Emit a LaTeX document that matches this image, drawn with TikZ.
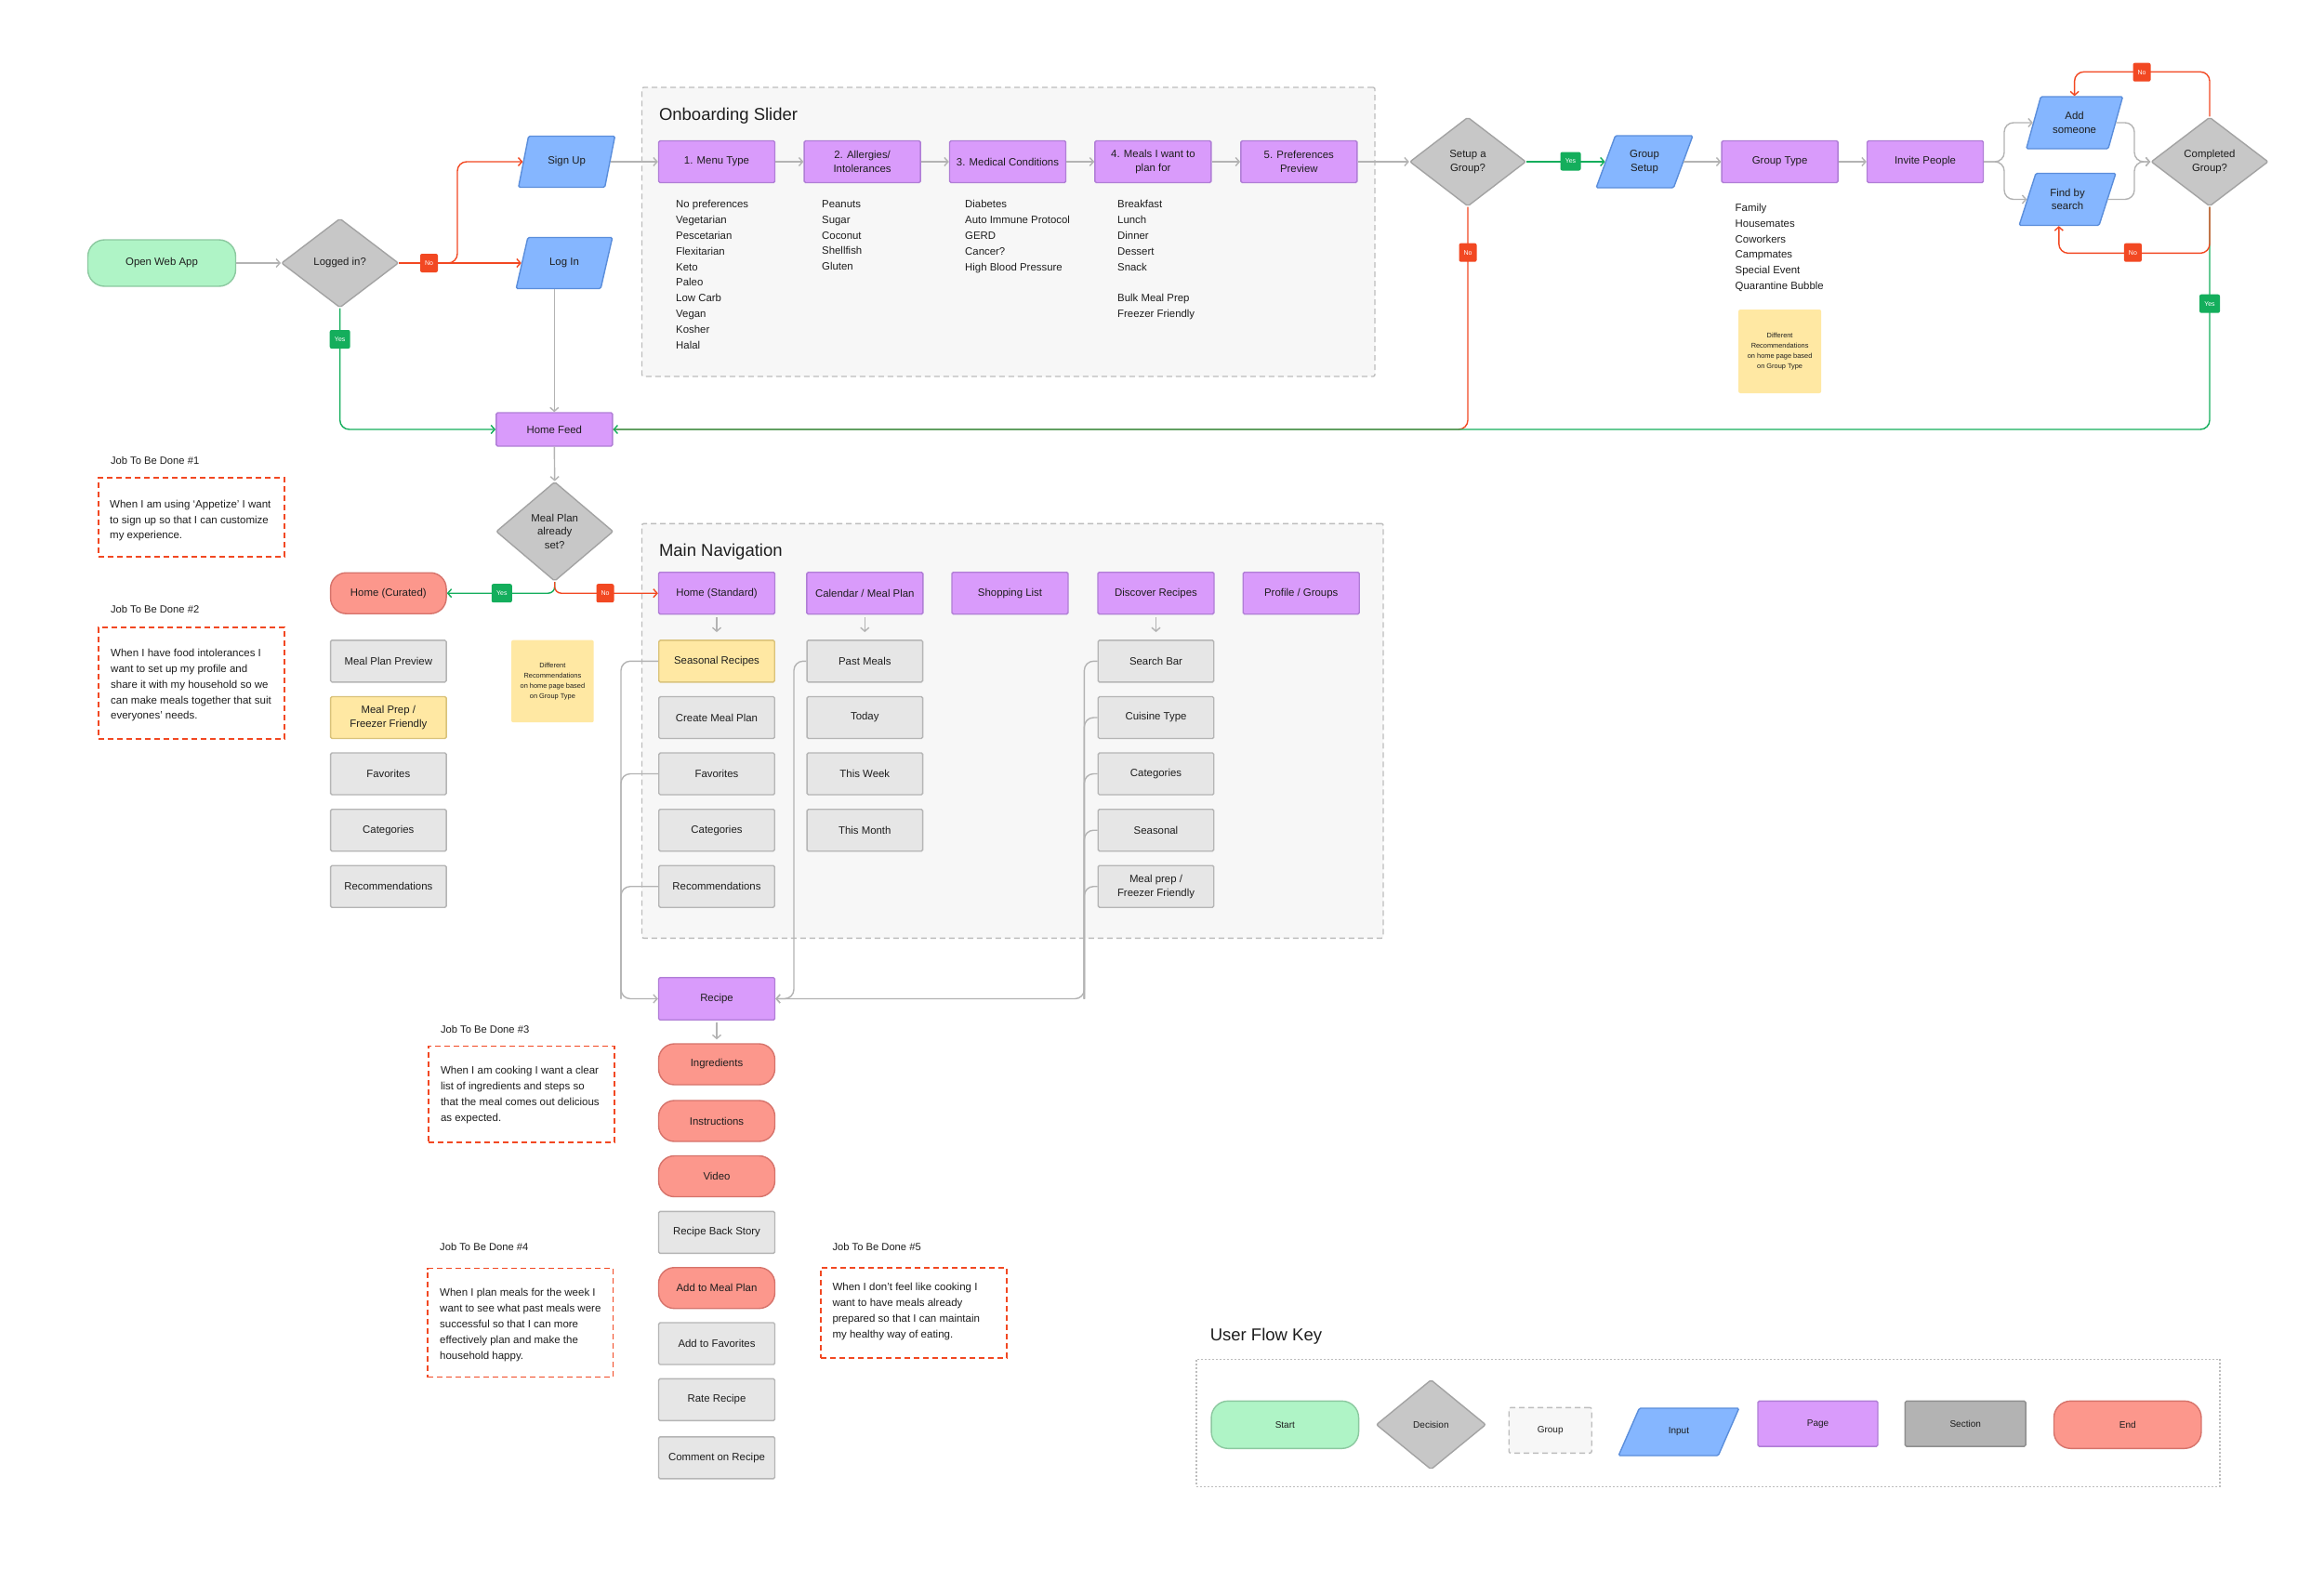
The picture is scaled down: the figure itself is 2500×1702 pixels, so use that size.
\documentclass[tikz,border=0pt]{standalone}
\usepackage{fontspec}
\setmainfont{Liberation Sans}
\usetikzlibrary{shapes.geometric,arrows.meta}
\definecolor{startfill}{HTML}{AFF4C6}
\definecolor{startdraw}{HTML}{8CC9A0}
\definecolor{pagefill}{HTML}{D99BFB}
\definecolor{pagedraw}{HTML}{B07ED6}
\definecolor{inputfill}{HTML}{85B6FF}
\definecolor{inputdraw}{HTML}{5B8EDB}
\definecolor{decfill}{HTML}{C7C7C7}
\definecolor{decdraw}{HTML}{A3A3A3}
\definecolor{grayfill}{HTML}{E6E6E6}
\definecolor{graydraw}{HTML}{B5B5B5}
\definecolor{yelfill}{HTML}{FFE8A3}
\definecolor{yeldraw}{HTML}{D9C27A}
\definecolor{endfill}{HTML}{FC978C}
\definecolor{enddraw}{HTML}{D6736B}
\definecolor{secfill}{HTML}{B3B3B3}
\definecolor{secdraw}{HTML}{8F8F8F}
\definecolor{grpfill}{HTML}{F7F7F7}
\definecolor{grpdraw}{HTML}{BDBDBD}
\definecolor{noRed}{HTML}{F24822}
\definecolor{yesGreen}{HTML}{14AE5C}
\definecolor{lineGray}{HTML}{B3B3B3}
\definecolor{txt}{HTML}{1E1E1E}
\tikzset{
  basebox/.style={draw, line width=1.4pt, text=txt, font=\fontsize{11.4}{14.7}\selectfont, align=center, inner sep=2pt},
  startbox/.style={basebox, fill=startfill, draw=startdraw, rounded corners=18pt, minimum width=159pt, minimum height=50pt},
  endbox/.style={basebox, fill=endfill, draw=enddraw, rounded corners=17pt, minimum width=124.5pt, minimum height=44pt},
  pagebox/.style={basebox, fill=pagefill, draw=pagedraw, rounded corners=1.5pt, minimum width=125pt, minimum height=45pt},
  graybox/.style={basebox, fill=grayfill, draw=graydraw, rounded corners=1.5pt, minimum width=124.5pt, minimum height=45pt},
  yelbox/.style={basebox, fill=yelfill, draw=yeldraw, rounded corners=1.5pt, minimum width=124.5pt, minimum height=45pt},
  secbox/.style={basebox, fill=secfill, draw=secdraw, rounded corners=1.5pt},
  decbox/.style={basebox, diamond, fill=decfill, draw=decdraw, rounded corners=2pt, inner sep=0pt, minimum width=126pt, minimum height=96pt},
  inbox/.style={basebox, trapezium, trapezium left angle=68, trapezium right angle=112, trapezium stretches=true, fill=inputfill, draw=inputdraw, rounded corners=1.5pt, minimum width=104pt, minimum height=55pt},
  groupbox/.style={draw=grpdraw, fill=grpfill, line width=1.4pt, dash pattern=on 6pt off 4pt, rounded corners=2pt},
  titletext/.style={anchor=west, inner sep=0pt, text=txt, font=\fontsize{18.5}{22}\selectfont},
  listtext/.style={anchor=north west, inner sep=0pt, align=left, text=txt, font=\fontsize{11.4}{16.8}\selectfont},
  jobtitle/.style={anchor=west, inner sep=0pt, text=txt, font=\fontsize{11.2}{14}\selectfont},
  jobtext/.style={anchor=north west, inner sep=0pt, align=left, text=txt, font=\fontsize{11.5}{16.8}\selectfont},
  jobbox/.style={draw=noRed, line width=1.8pt, dash pattern=on 6pt off 4pt},
  note/.style={fill=yelfill, rounded corners=2pt, align=center, text=txt, font=\fontsize{7.4}{11}\selectfont, inner sep=2pt},
  badge/.style={rounded corners=2pt, inner sep=0pt, minimum width=19pt, minimum height=20pt, text=white, font=\fontsize{7}{8}\selectfont},
  nobadge/.style={badge, fill=noRed},
  yesbadge/.style={badge, fill=yesGreen, minimum width=22pt},
  tipend/.style={-{Straight Barb[length=4pt,width=9pt]}},
  gline/.style={draw=lineGray, line width=1.4pt, rounded corners=10pt, tipend},
  glinena/.style={draw=lineGray, line width=1.4pt, rounded corners=10pt},
  rline/.style={draw=noRed, line width=1.4pt, rounded corners=10pt, tipend},
  rlinena/.style={draw=noRed, line width=1.4pt, rounded corners=10pt},
  yline/.style={draw=yesGreen, line width=1.4pt, rounded corners=10pt, tipend},
}
\begin{document}
\begin{tikzpicture}[x=1pt,y=-1pt]
\useasboundingbox (0,0) rectangle (2500,1702);
\fill[white] (0,0) rectangle (2500,1702);

% group boxes
\node[groupbox, minimum width=788.5pt, minimum height=311pt] (obgroup) at (1084.75,249.5) {};
\node[groupbox, minimum width=797.5pt, minimum height=446pt] (mngroup) at (1089.25,786.3) {};
\node[titletext] (obtitle) at (708.8,125) {Onboarding Slider};
\node[titletext] (mntitle) at (708.8,593.3) {Main Navigation};

% top-left flow
\node[startbox] (openapp) at (174,283) {Open Web App};
\node[decbox] (logged) at (365.7,283) {Logged in?};
\node[inbox] (signup) at (609.6,174) {Sign Up};
\node[inbox] (login) at (607,283) {Log In};
\node[pagebox, minimum height=36pt] (homefeed) at (596.3,462) {Home Feed};

% onboarding
\node[pagebox] (m1) at (771,174) {1. Menu Type};
\node[pagebox] (m2) at (927.6,174) {2. Allergies/\\Intolerances};
\node[pagebox] (m3) at (1084,174) {3. Medical Conditions};
\node[pagebox] (m4) at (1240.4,174) {4. Meals I want to\\plan for};
\node[pagebox] (m5) at (1397.3,174) {5. Preferences\\Preview};
\node[listtext] (l1) at (727,215.5) {No preferences\\Vegetarian\\Pescetarian\\Flexitarian\\Keto\\Paleo\\Low Carb\\Vegan\\Kosher\\Halal};
\node[listtext] (l2) at (884,215.5) {Peanuts\\Sugar\\Coconut\\Shellfish\\Gluten};
\node[listtext] (l3) at (1038,215.5) {Diabetes\\Auto Immune Protocol\\GERD\\Cancer?\\High Blood Pressure};
\node[listtext] (l4) at (1202,215.5) {Breakfast\\Lunch\\Dinner\\Dessert\\Snack\\[16.8pt]Bulk Meal Prep\\Freezer Friendly};

% group flow
\node[decbox, minimum width=125pt] (setup) at (1579,174) {Setup a\\Group?};
\node[inbox, minimum height=56pt] (groupsetup) at (1769,174) {Group\\Setup};
\node[pagebox] (grouptype) at (1914.6,174) {Group Type};
\node[pagebox] (invite) at (2071,174) {Invite People};
\node[inbox, minimum height=56pt] (addsomeone) at (2231.6,132) {Add\\someone};
\node[inbox, minimum height=56pt] (findsearch) at (2224,214.5) {Find by\\search};
\node[decbox] (completed) at (2377,174) {Completed\\Group?};
\node[listtext] (gtlist) at (1866.5,219) {Family\\Housemates\\Coworkers\\Campmates\\Special Event\\Quarantine Bubble};
\node[note, minimum width=89pt, minimum height=90pt] (note1) at (1914.6,378) {Different\\Recommendations\\on home page based\\on Group Type};

% meal plan decision
\node[decbox, minimum height=107pt] (mealplan) at (596.7,571.8) {Meal Plan\\already\\set?};
\node[endbox] (homecur) at (417.8,638.2) {Home (Curated)};
\node[graybox] (mpp) at (417.8,711.3) {Meal Plan Preview};
\node[yelbox] (mprep) at (417.8,772) {Meal Prep /\\Freezer Friendly};
\node[graybox] (lfav) at (417.8,832.5) {Favorites};
\node[graybox] (lcat) at (417.8,893.2) {Categories};
\node[graybox] (lrec) at (417.8,953.7) {Recommendations};
\node[note, minimum width=88.6pt, minimum height=88.6pt] (note2) at (594.4,732.9) {Different\\Recommendations\\on home page based\\on Group Type};

% main navigation
\node[pagebox] (homestd) at (771,638.2) {Home (Standard)};
\node[pagebox] (calendar) at (930.3,638.2) {Calendar / Meal Plan};
\node[pagebox] (shopping) at (1086.5,638.2) {Shopping List};
\node[pagebox] (discover) at (1243.5,638.2) {Discover Recipes};
\node[pagebox] (profile) at (1399.7,638.2) {Profile / Groups};

\node[yelbox] (seasonal) at (771,711.3) {Seasonal Recipes};
\node[graybox] (createmp) at (771,772) {Create Meal Plan};
\node[graybox] (hfav) at (771,832.5) {Favorites};
\node[graybox] (hcat) at (771,893.2) {Categories};
\node[graybox] (hrec) at (771,953.7) {Recommendations};

\node[graybox] (pastmeals) at (930.3,711.3) {Past Meals};
\node[graybox] (today) at (930.3,772) {Today};
\node[graybox] (thisweek) at (930.3,832.5) {This Week};
\node[graybox] (thismonth) at (930.3,893.2) {This Month};

\node[graybox] (searchbar) at (1243.5,711.3) {Search Bar};
\node[graybox] (cuisine) at (1243.5,772) {Cuisine Type};
\node[graybox] (dcat) at (1243.5,832.5) {Categories};
\node[graybox] (dseason) at (1243.5,893.2) {Seasonal};
\node[graybox] (dprep) at (1243.5,953.7) {Meal prep /\\Freezer Friendly};

% recipe
\node[pagebox, minimum height=45.5pt] (recipe) at (771,1074.5) {Recipe};
\node[endbox, minimum width=125pt] (ingredients) at (771,1145) {Ingredients};
\node[endbox, minimum width=125pt] (instructions) at (771,1206) {Instructions};
\node[endbox, minimum width=125pt] (video) at (771,1265.5) {Video};
\node[graybox, minimum width=125pt] (backstory) at (771,1325.8) {Recipe Back Story};
\node[endbox, minimum width=125pt] (addmeal) at (771,1385.7) {Add to Meal Plan};
\node[graybox, minimum width=125pt] (addfav) at (771,1445.5) {Add to Favorites};
\node[graybox, minimum width=125pt] (rate) at (771,1505.8) {Rate Recipe};
\node[graybox, minimum width=125pt] (comment) at (771,1568.3) {Comment on Recipe};

% jobs to be done
\node[jobtitle] (j1t) at (118.8,495) {Job To Be Done \#1};
\node[jobbox, minimum width=200pt, minimum height=85pt] (j1) at (205.7,556.8) {};
\node[jobtext] (j1x) at (118,537.8) {When I am using ‘Appetize’ I want\\to sign up so that I can customize\\my experience.};
\node[jobtitle] (j2t) at (118.8,655.4) {Job To Be Done \#2};
\node[jobbox, minimum width=200pt, minimum height=120pt] (j2) at (205.7,734.6) {};
\node[jobtext] (j2x) at (119,698.2) {When I have food intolerances I\\want to set up my profile and\\share it with my household so we\\can make meals together that suit\\everyones’ needs.};
\node[jobtitle] (j3t) at (473.8,1107) {Job To Be Done \#3};
\node[jobbox, minimum width=200pt, minimum height=103.6pt] (j3) at (560.75,1177.2) {};
\node[jobtext] (j3x) at (473.8,1147.4) {When I am cooking I want a clear\\list of ingredients and steps so\\that the meal comes out delicious\\as expected.};
\node[jobtitle] (j4t) at (473,1341.5) {Job To Be Done \#4};
\node[jobbox, minimum width=199.4pt, minimum height=117pt] (j4) at (559.7,1423) {};
\node[jobtext] (j4x) at (473,1386.4) {When I plan meals for the week I\\want to see what past meals were\\successful so that I can more\\effectively plan and make the\\household happy.};
\node[jobtitle] (j5t) at (895.3,1341.5) {Job To Be Done \#5};
\node[jobbox, minimum width=200pt, minimum height=96.9pt] (j5) at (982.75,1412.2) {};
\node[jobtext] (j5x) at (895.3,1380.1) {When I don’t feel like cooking I\\want to have meals already\\prepared so that I can maintain\\my healthy way of eating.};

% key
\node[titletext] (keytitle) at (1301.6,1437.7) {User Flow Key};
\node[draw=grpdraw, line width=1.2pt, dash pattern=on 2pt off 2pt, minimum width=1101pt, minimum height=137pt] (keybox) at (1837.5,1530.8) {};
\node[startbox, minimum width=158.5pt, minimum height=51pt, font=\fontsize{10}{12}\selectfont] (kstart) at (1382.3,1532.8) {Start};
\node[decbox, minimum width=118pt, minimum height=96.7pt, font=\fontsize{10}{12}\selectfont] (kdec) at (1539.4,1532.7) {Decision};
\node[groupbox, text=txt, font=\fontsize{10}{12}\selectfont, minimum width=89pt, minimum height=49pt] (kgroup) at (1667.7,1538.8) {Group};
\node[inbox, trapezium left angle=62, trapezium right angle=118, minimum width=130pt, minimum height=51pt, font=\fontsize{10}{12}\selectfont] (kinput) at (1805.9,1540.5) {Input};
\node[pagebox, minimum width=129pt, minimum height=48.7pt, font=\fontsize{10}{12}\selectfont] (kpage) at (1955.5,1531.7) {Page};
\node[secbox, minimum width=129.7pt, minimum height=48.7pt, font=\fontsize{10}{12}\selectfont] (ksection) at (2114.2,1531.7) {Section};
\node[endbox, minimum width=158.5pt, minimum height=51pt, rounded corners=18pt, font=\fontsize{10}{12}\selectfont] (kend) at (2288.7,1532.8) {End};

% ---------- connectors ----------
\coordinate (nobranch) at (492,283);
\coordinate (invsplit) at (2156,174);
\coordinate (cmerge) at (2296,174);
\coordinate (hl) at (668,1074.5);
\coordinate (calv) at (854,1074.5);
\coordinate (dv) at (1166.4,1074.5);

\draw[gline] (openapp.east) -- (logged.west);
\draw[rline] (logged.east) -- (login.left side);
\draw[rline] (logged.east) -- (nobranch) |- (signup.left side);
\draw[yline] (logged.south) |- (homefeed.west);
\draw[gline] (homefeed.north |- login.south) -- (homefeed.north);
\draw[gline] (signup.right side) -- (m1.west);
\draw[gline] (m1.east) -- (m2.west);
\draw[gline] (m2.east) -- (m3.west);
\draw[gline] (m3.east) -- (m4.west);
\draw[gline] (m4.east) -- (m5.west);
\draw[gline] (m5.east) -- (setup.west);
\draw[yline] (setup.east) -- (groupsetup.left side);
\draw[gline] (groupsetup.right side) -- (grouptype.west);
\draw[gline] (grouptype.east) -- (invite.west);
\draw[gline] (invite.east) -- (invsplit) |- (addsomeone.left side);
\draw[gline] (invite.east) -- (invsplit) |- (findsearch.left side);
\draw[gline] (addsomeone.right side) -| (cmerge) -- (completed.west);
\draw[gline] (findsearch.right side) -| (cmerge) -- (completed.west);

\draw[rlinena] (setup.south) |- (homefeed.east);
\draw[yline] (completed.south) |- (homefeed.east);
\draw[rline] (completed.south) -- ++(0,49.7) -| (findsearch.bottom side);
\draw[rline] (completed.north) -- ++(0,-48) -| (addsomeone.north);

\draw[gline] (homefeed.south) -- (mealplan.north);
\draw[yline, rounded corners=7pt] (mealplan.south) |- (homecur.east);
\draw[rline, rounded corners=7pt] (mealplan.south) |- (homestd.west);

\draw[gline, shorten >=8pt, shorten <=3pt] (homestd.south) -- (seasonal.north);
\draw[gline, shorten >=8pt, shorten <=3pt] (calendar.south) -- (pastmeals.north);
\draw[gline, shorten >=8pt, shorten <=3pt] (discover.south) -- (searchbar.north);

\draw[gline] (seasonal.west) -| (hl) -- (recipe.west);
\draw[glinena] (hfav.west) -| (hl);
\draw[glinena] (hrec.west) -| (hl);
\draw[gline] (pastmeals.west) -| (calv) -- (recipe.east);
\draw[gline] (searchbar.west) -| (dv) -- (recipe.east);
\draw[glinena] (cuisine.west) -| (dv);
\draw[glinena] (dcat.west) -| (dv);
\draw[glinena] (dseason.west) -| (dv);
\draw[glinena] (dprep.west) -| (dv);
\draw[gline, shorten >=4pt, shorten <=2pt] (recipe.south) -- (ingredients.north);

% badges
\node[nobadge] (b1) at (461.5,283) {No};
\node[yesbadge] (b2) at (365.7,365) {Yes};
\node[yesbadge] (b3) at (1689.5,173.5) {Yes};
\node[nobadge] (b4) at (1579,271.7) {No};
\node[nobadge] (b5) at (2304,77.7) {No};
\node[nobadge] (b6) at (2294.4,271.7) {No};
\node[yesbadge] (b7) at (2377,326.7) {Yes};
\node[yesbadge] (b8) at (539.8,638.2) {Yes};
\node[nobadge] (b9) at (651,638.2) {No};
\end{tikzpicture}
\end{document}
